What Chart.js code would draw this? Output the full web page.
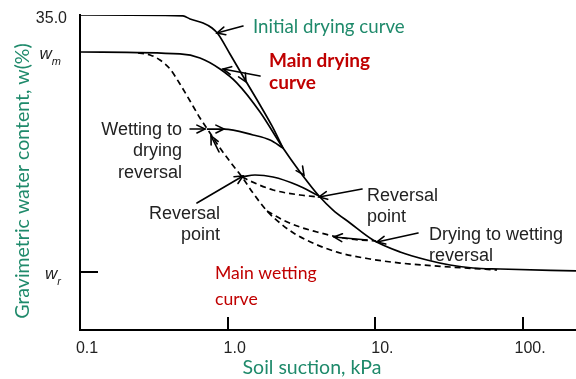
<!DOCTYPE html>
<html>
<head>
<meta charset="utf-8">
<script src="https://cdn.jsdelivr.net/npm/chart.js@4.4.1/dist/chart.umd.min.js"></script>
<style>
  html, body { margin: 0; padding: 0; background: #fff; }
  #wrap { width: 576px; height: 379px; }
</style>
</head>
<body>
<div id="wrap"><canvas id="swcc" width="576" height="379"></canvas></div>
<script>
// Soil-water characteristic curves: gravimetric water content (%) vs soil suction (kPa)

// Axis ranges and ticks
const suctionMin = 0.1;
const suctionMax = 228;
const waterMin = 0;
const waterMax = 35;
const xTickValues = [0.1, 1, 10, 100];
const xTickLabels = ['0.1', '1.0', '10.', '100.'];
const yTickValues = [35, 30.89, 6.44];
const yTickLabels = ['35.0', 'w|m', 'w|r'];   // "base|subscript"

// Initial drying curve (starts saturated at 35 %)
const initialDryingSuction = [0.1, 0.498, 0.556, 0.681, 0.783, 0.860, 1.036, 1.351, 1.655, 1.994, 2.368];
const initialDryingWater   = [35.0, 34.9, 34.56, 34.11, 33.56, 32.89, 30.67, 27.44, 25.0, 22.67, 20.22];

// Main drying curve (from w_m down to w_r)
const mainDryingSuction = [0.1, 0.475, 0.649, 0.887, 1.156, 1.655, 2.368, 3.087, 4.151, 5.165, 6.730, 9.634, 14.68, 22.36, 32.0, 45.8, 69.8, 228];
const mainDryingWater   = [30.89, 30.67, 30.22, 29.0, 27.44, 24.22, 20.22, 17.56, 14.89, 13.33, 11.89, 10.0, 8.67, 7.78, 7.22, 6.89, 6.78, 6.56];

// Main wetting curve
const mainWettingSuction = [0.247, 0.298, 0.348, 0.407, 0.475, 0.556, 0.649, 0.759, 0.887, 1.053, 1.250, 1.484, 1.845, 2.260, 2.855, 3.901, 5.760, 9.193, 14.68, 32.0, 66.6];
const mainWettingWater   = [30.78, 30.56, 30.0, 29.0, 27.33, 25.44, 23.56, 21.89, 20.22, 18.56, 17.0, 15.22, 13.22, 11.89, 10.67, 9.56, 8.56, 7.89, 7.44, 7.0, 6.67];

// Wetting-to-drying scanning curve (solid)
const wetToDrySuction = [0.724, 0.944, 1.484, 1.934, 2.368];
const wetToDryWater   = [22.33, 22.33, 21.67, 21.11, 20.22];

// Drying scanning curve from the lower reversal point (solid)
const dryScanSuction = [1.250, 1.530, 2.027, 2.946, 4.151];
const dryScanWater   = [17.0, 17.22, 17.0, 16.11, 14.89];

// Wetting scanning curve back from the main drying curve (dashed)
const wetScanSuction = [1.250, 1.416, 2.027, 3.087, 4.151];
const wetScanWater   = [17.0, 16.56, 15.56, 15.0, 14.78];

// Drying-to-wetting scanning curve (dashed)
const dryToWetSuction = [1.845, 2.368, 3.087, 4.023, 5.165, 6.730, 10.1];
const dryToWetWater   = [13.22, 12.22, 11.44, 10.89, 10.44, 10.11, 9.89];

// Pointer arrows (tail -> tip)
const pointerTailSuction = [1.269, 1.655, 0.556, 0.619, 8.12, 19.43, 8.77, 0.873];
const pointerTailWater   = [33.78, 28.22, 22.33, 14.11, 15.67, 10.78, 10.0, 19.78];
const pointerTipSuction  = [0.846, 0.929, 0.702, 1.269, 4.151, 10.25, 5.245, 0.771];
const pointerTipWater    = [33.0, 29.0, 22.33, 17.11, 14.78, 9.78, 10.33, 21.56];

// Direction arrowheads sitting on the curves (tail only gives direction)
const headTailSuction = [1.174, 0.783, 2.946];
const headTailWater   = [29.11, 22.33, 18.33];
const headTipSuction  = [1.330, 0.944, 3.285];
const headTipWater    = [27.56, 22.33, 17.22];

// Text notes: anchor = first-line baseline
const noteText = ['Initial drying curve', 'Main drying\ncurve', 'Wetting to\ndrying\nreversal', 'Reversal\npoint', 'Reversal\npoint', 'Drying to wetting\nreversal', 'Main wetting\ncurve'];
const noteSuction = [1.484, 1.904, 0.490, 0.887, 8.77, 23.06, 0.820];
const noteWater   = [33.0, 29.22, 21.67, 12.33, 14.33, 10.0, 5.67];

// Presentation
const GREEN = '#1f8a6b';
const RED = '#c00000';
const noteStyle = [
  { font: '18.7px Lato', color: GREEN, align: 'left', lh: 22 },
  { font: 'bold 19px Lato', color: RED, align: 'left', lh: 22 },
  { font: '18px "Liberation Sans"', color: '#222', align: 'right', lh: 21.5 },
  { font: '18px "Liberation Sans"', color: '#222', align: 'right', lh: 21 },
  { font: '18px "Liberation Sans"', color: '#222', align: 'left', lh: 21 },
  { font: '18px "Liberation Sans"', color: '#222', align: 'left', lh: 21 },
  { font: '17.6px Lato', color: RED, align: 'left', lh: 26 }
];

function series(xs, ys, dashed) {
  return {
    data: xs.map((x, i) => ({ x: x, y: ys[i] })),
    showLine: true,
    borderColor: '#000',
    borderWidth: 1.7,
    borderDash: dashed ? [6, 4] : [],
    pointRadius: 0,
    cubicInterpolationMode: 'monotone',
    fill: false
  };
}

function arrowHead(ctx, x0, y0, x1, y1) {
  const a = Math.atan2(y1 - y0, x1 - x0), L = 9, s = 0.45;
  ctx.beginPath();
  ctx.moveTo(x1 - L * Math.cos(a - s), y1 - L * Math.sin(a - s));
  ctx.lineTo(x1, y1);
  ctx.lineTo(x1 - L * Math.cos(a + s), y1 - L * Math.sin(a + s));
  ctx.stroke();
}

const decorations = {
  id: 'decorations',
  afterDraw(chart) {
    const ctx = chart.ctx;
    const xs = chart.scales.x, ys = chart.scales.y;
    const area = chart.chartArea;
    ctx.save();
    ctx.strokeStyle = '#000';
    ctx.lineWidth = 1.6;
    ctx.lineCap = 'round';
    ctx.setLineDash([]);

    // pointer arrows
    pointerTailSuction.forEach((_, i) => {
      const x0 = xs.getPixelForValue(pointerTailSuction[i]);
      const y0 = ys.getPixelForValue(pointerTailWater[i]);
      const x1 = xs.getPixelForValue(pointerTipSuction[i]);
      const y1 = ys.getPixelForValue(pointerTipWater[i]);
      ctx.beginPath(); ctx.moveTo(x0, y0); ctx.lineTo(x1, y1); ctx.stroke();
      arrowHead(ctx, x0, y0, x1, y1);
    });
    // arrowheads on curves
    headTailSuction.forEach((_, i) => {
      arrowHead(ctx,
        xs.getPixelForValue(headTailSuction[i]), ys.getPixelForValue(headTailWater[i]),
        xs.getPixelForValue(headTipSuction[i]), ys.getPixelForValue(headTipWater[i]));
    });

    // inward tick marks
    ctx.lineWidth = 2;
    ctx.lineCap = 'butt';
    xTickValues.forEach(v => {
      const px = Math.round(xs.getPixelForValue(v));
      if (px <= area.left + 1) return;
      ctx.beginPath(); ctx.moveTo(px, area.bottom); ctx.lineTo(px, area.bottom - 13); ctx.stroke();
    });
    const wr = Math.round(ys.getPixelForValue(yTickValues[2]));
    ctx.beginPath(); ctx.moveTo(area.left, wr); ctx.lineTo(area.left + 18, wr); ctx.stroke();

    // x tick labels
    ctx.fillStyle = '#222';
    ctx.font = '16px "Liberation Sans"';
    ctx.textAlign = 'center';
    ctx.textBaseline = 'alphabetic';
    xTickValues.forEach((v, i) => {
      ctx.fillText(xTickLabels[i], xs.getPixelForValue(v) + 7, area.bottom + 23);
    });

    // y tick labels
    yTickValues.forEach((v, i) => {
      const py = ys.getPixelForValue(v);
      const parts = yTickLabels[i].split('|');
      ctx.textAlign = 'right';
      if (parts.length === 1) {
        ctx.font = '16px "Liberation Sans"';
        ctx.fillText(parts[0], area.left - 13, py + 8);
      } else {
        ctx.font = 'italic 11px "Liberation Sans"';
        const subW = ctx.measureText(parts[1]).width;
        ctx.fillText(parts[1], area.left - 19, py + 13);
        ctx.font = 'italic 17px "Liberation Sans"';
        ctx.fillText(parts[0], area.left - 19 - subW, py + 7);
      }
    });

    // axis titles
    ctx.fillStyle = GREEN;
    ctx.font = '19.5px Lato';
    ctx.textAlign = 'center';
    ctx.textBaseline = 'alphabetic';
    ctx.fillText('Soil suction, kPa', 312, area.bottom + 44);
    ctx.save();
    ctx.translate(29, 181);
    ctx.rotate(-Math.PI / 2);
    ctx.fillText('Gravimetric water content, w(%)', 0, 0);
    ctx.restore();

    // notes
    noteText.forEach((t, i) => {
      const st = noteStyle[i];
      ctx.font = st.font;
      ctx.fillStyle = st.color;
      ctx.textAlign = st.align;
      ctx.textBaseline = 'alphabetic';
      const x = xs.getPixelForValue(noteSuction[i]);
      const y = ys.getPixelForValue(noteWater[i]);
      t.split('\n').forEach((line, k) => ctx.fillText(line, x, y + k * st.lh));
    });
    ctx.restore();
  }
};

new Chart(document.getElementById('swcc').getContext('2d'), {
  type: 'scatter',
  data: {
    datasets: [
      series(initialDryingSuction, initialDryingWater, false),
      series(mainDryingSuction, mainDryingWater, false),
      series(mainWettingSuction, mainWettingWater, true),
      series(wetToDrySuction, wetToDryWater, false),
      series(dryScanSuction, dryScanWater, false),
      series(wetScanSuction, wetScanWater, true),
      series(dryToWetSuction, dryToWetWater, true)
    ]
  },
  options: {
    responsive: false,
    animation: false,
    layout: { padding: { left: 80, top: 15, right: 0, bottom: 49 } },
    plugins: { legend: { display: false }, tooltip: { enabled: false } },
    scales: {
      x: {
        type: 'logarithmic', min: suctionMin, max: suctionMax,
        grid: { display: false, drawTicks: false },
        ticks: { display: false },
        border: { display: true, color: '#000', width: 2 }
      },
      y: {
        type: 'linear', min: waterMin, max: waterMax,
        grid: { display: false, drawTicks: false },
        ticks: { display: false },
        border: { display: true, color: '#000', width: 2 }
      }
    }
  },
  plugins: [decorations]
});
</script>
</body>
</html>
